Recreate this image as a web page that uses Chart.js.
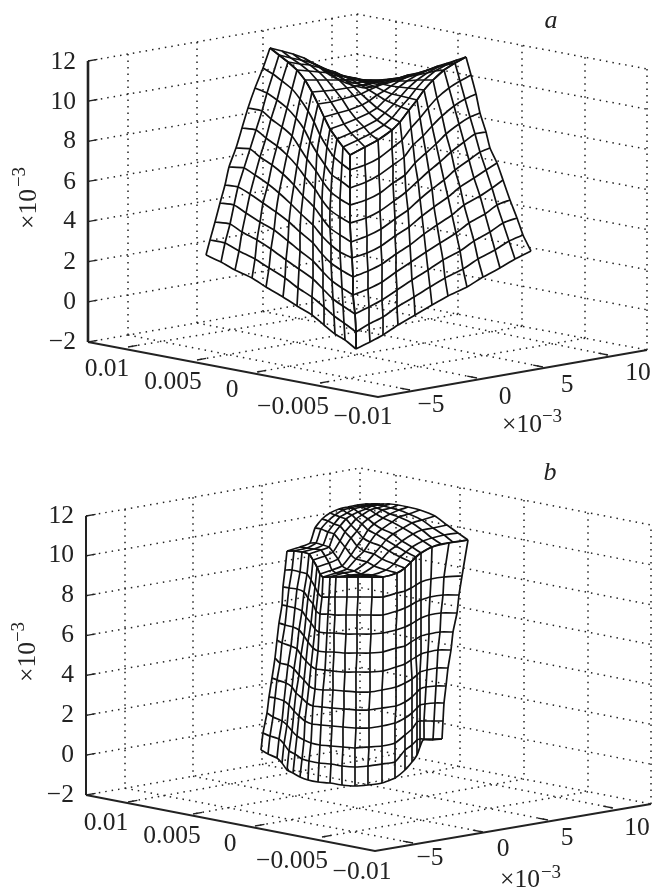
<!DOCTYPE html>
<html>
<head>
<meta charset="utf-8">
<style>
  html, body { margin: 0; padding: 0; background: #fff; }
  canvas { display: block; }
</style>
<script src="https://cdn.jsdelivr.net/npm/chart.js@4/dist/chart.umd.min.js"></script>
</head>
<body>
<canvas id="chart" width="656" height="892"></canvas>
<script>
const zTickLabels = ['12', '10', '8', '6', '4', '2', '0', '\u22122'];
const xTickLabels = ['0.01', '0.005', '0', '\u22120.005', '\u22120.01'];
const yTickLabels = ['\u22125', '0', '5', '10'];

// panel a, frame
const aCorners = { top: [88, 61], left: [88, 342], front: [378, 397], right: [647, 350], back: [357, 295], backTop: [357, 14], rightTop: [647, 69] };
const aLeftWallX = [128, 197, 263, 332];
const aRightWallX = [396, 458, 522, 585];
const aFrontLeftTicks = [[128, 347], [197, 360], [257, 372], [320, 383]];
const aFrontRightTicks = [[410, 390], [477, 378], [543, 367], [608, 355]];
const aZLabelY = [62, 102, 141, 182, 221, 262, 302, 342];
const aXLabelPos = [[107, 369], [173, 382], [232, 390], [293, 407], [363, 417]];
const aYLabelPos = [[431, 405], [505, 397], [567, 385], [638, 373]];

// panel b, frame
const bCorners = { top: [86, 516], left: [86, 795], front: [375, 851], right: [651, 804], back: [360, 747], backTop: [360, 468], rightTop: [651, 525] };
const bLeftWallX = [125, 193, 262, 330];
const bRightWallX = [396, 460, 524, 588];
const bFrontLeftTicks = [[128, 802], [193, 814], [255, 826], [322, 837]];
const bFrontRightTicks = [[413, 843], [483, 832], [548, 820], [613, 808]];
const bZLabelY = [516, 555, 595, 635, 675, 715, 755, 795];
const bXLabelPos = [[106, 823], [172, 836], [230, 844], [292, 861], [362, 872]];
const bYLabelPos = [[430, 858], [503, 849], [567, 838], [637, 828]];

// surface a, left wall (one line per column)
const aLeftX = [
  [270,263,255,248,242,236,229,225,220,215,210,206],
  [279,273,267,262,256,250,244,238,234,230,225,221],
  [288,282,277,271,266,260,255,250,246,242,239,235],
  [297,292,287,282,277,272,268,263,260,257,255,252],
  [305,300,296,292,287,283,279,276,274,271,269,266],
  [312,308,304,300,297,294,291,289,288,286,285,283],
  [318,314,310,307,305,303,301,300,300,299,298,297],
  [324,320,317,316,315,314,313,313,313,313,312,312],
  [330,327,325,323,322,322,322,322,323,323,324,324],
  [337,334,332,331,330,330,331,331,332,333,334,335],
  [343,342,341,340,340,340,340,341,342,343,344,345],
  [350,350,350,350,350,351,352,353,353,355,356,356]
];
const aLeftY = [
  [48,68,88,108,128,148,167,185,203,222,240,255],
  [55,74,93,111,130,149,168,187,205,224,243,262],
  [62,81,100,119,138,157,175,194,213,232,251,270],
  [70,89,108,127,146,165,184,203,222,240,259,278],
  [80,99,118,136,155,174,193,212,230,249,268,287],
  [92,111,129,148,166,185,204,222,241,260,278,297],
  [104,122,141,159,177,196,214,232,251,269,288,306],
  [117,135,153,171,189,207,225,243,261,279,297,315],
  [129,147,165,182,200,218,236,254,272,289,307,325],
  [139,157,175,192,210,228,245,263,281,299,316,334],
  [147,164,181,199,217,235,252,270,288,306,323,340],
  [155,170,188,205,223,242,258,277,295,314,332,349]
];

// surface a, right wall
const aRightX = [
  [350,350,350,350,350,351,352,353,353,355,356,356],
  [365,365,366,366,366,367,367,368,368,369,369,370],
  [378,379,379,380,380,381,381,382,382,382,383,383],
  [392,392,393,393,394,395,395,396,396,397,397,398],
  [400,402,404,405,406,408,409,410,411,412,414,415],
  [409,411,413,415,418,420,422,424,426,428,430,432],
  [417,420,423,426,429,432,434,437,440,443,445,448],
  [424,428,432,436,440,444,448,452,456,460,463,467],
  [433,437,442,446,451,455,460,464,469,474,478,483],
  [444,449,454,459,464,469,474,480,485,490,495,500],
  [455,460,465,470,475,480,486,492,497,503,509,515],
  [466,471,476,480,486,490,497,503,510,517,523,531]
];
const aRightY = [
  [155,170,188,205,223,242,258,277,295,314,332,349],
  [147,165,182,200,218,236,253,271,289,307,324,342],
  [140,158,175,193,211,229,246,264,282,300,317,335],
  [130,148,165,183,201,219,236,254,272,290,307,325],
  [122,140,157,175,192,210,227,245,262,280,297,315],
  [110,128,145,163,181,199,216,234,252,270,287,305],
  [100,118,136,153,171,189,207,225,243,260,278,296],
  [90,108,126,144,162,180,197,215,233,251,269,287],
  [80,98,116,134,152,170,187,205,223,241,259,277],
  [70,88,106,124,142,160,178,196,214,232,250,268],
  [63,81,99,117,134,152,170,188,205,223,241,259],
  [57,75,94,113,132,148,163,180,200,218,235,251]
];

// surface a, inner funnel
const aTopX = [
  [350,365,378,392,400,409,417,424,433,444,455,466],
  [343,358,370,384,392,401,409,416,424,435,446,457],
  [337,351,364,377,385,394,401,408,417,427,438,448],
  [330,344,356,369,377,385,392,399,407,417,428,438],
  [324,338,349,362,369,377,384,391,399,409,418,428],
  [318,331,342,354,361,369,376,382,389,399,408,418],
  [312,324,335,347,354,361,368,373,381,390,399,408],
  [305,317,327,339,345,352,359,364,371,380,389,398],
  [297,309,319,330,336,343,349,355,362,370,379,388],
  [288,300,310,321,328,335,341,346,354,362,371,380],
  [279,291,301,313,319,326,333,338,345,354,363,372],
  [270,282,293,304,310,318,324,330,337,346,355,364]
];
const aTopY = [
  [155,147,140,130,122,110,100,90,80,70,63,57],
  [147,140,134,125,118,107,98,89,80,71,65,60],
  [139,133,127,120,113,104,96,88,80,73,67,63],
  [129,124,119,113,108,100,94,87,81,75,70,66],
  [117,113,110,105,101,95,91,86,81,76,73,70],
  [104,102,99,96,94,90,87,84,81,78,75,74],
  [92,91,90,88,87,85,84,82,81,79,78,77],
  [80,80,80,80,80,80,80,80,80,80,80,80],
  [70,71,72,73,74,76,77,78,80,81,82,83],
  [62,64,65,68,70,72,75,77,79,82,83,85],
  [55,58,60,63,66,70,73,76,80,83,85,87],
  [48,51,54,58,62,66,71,75,79,83,86,88]
];

// surface b, outer wall (one line per column)
const bWallX = [
  [287,285,283,282,279,277,275,272,269,267,263,261],
  [294,292,289,287,285,282,280,277,275,273,270,268],
  [302,300,297,295,293,291,288,286,284,282,279,277],
  [309,307,304,302,299,297,294,292,289,287,284,282],
  [313,311,308,306,304,301,299,296,294,292,289,287],
  [317,315,313,311,308,306,304,302,299,297,295,293],
  [320,318,316,315,313,311,309,307,305,304,302,300],
  [323,322,320,319,318,316,315,313,312,311,309,308],
  [330,329,328,327,326,325,323,322,321,320,319,318],
  [336,335,335,334,334,333,333,332,332,331,331,330],
  [347,347,346,346,345,345,344,344,343,343,342,342],
  [358,358,357,357,357,356,356,356,356,355,355,355],
  [372,372,371,371,370,370,370,369,369,369,368,368],
  [383,383,383,383,383,383,382,382,382,382,382,382],
  [397,397,397,396,396,396,396,396,395,395,395,395],
  [405,405,405,405,405,405,405,405,405,405,405,405],
  [411,411,411,411,411,411,412,412,412,412,412,412],
  [416,416,416,416,416,416,417,417,417,417,417,417],
  [421,421,421,421,421,421,420,420,420,420,420,420],
  [432,431,430,429,429,428,427,426,425,424,424,423],
  [449,444,443,441,440,438,437,436,435,434,433,432],
  [468,462,459,457,453,451,448,446,444,443,442,442]
];
const bWallY = [
  [551,570,587,605,623,640,658,678,697,713,733,750],
  [551,570,588,606,625,643,663,680,698,717,736,754],
  [552,572,589,608,627,646,665,683,701,721,739,758],
  [554,574,592,611,630,649,669,687,705,725,744,763],
  [560,580,598,617,636,655,675,693,711,731,751,770],
  [567,587,604,623,642,661,680,698,716,736,754,773],
  [574,593,611,629,648,666,686,703,721,740,759,777],
  [577,597,614,632,651,669,689,706,724,743,761,780],
  [577,597,614,633,652,670,690,707,725,745,763,782],
  [577,597,615,633,652,671,690,708,726,746,764,783],
  [577,597,615,634,653,672,691,709,727,747,766,785],
  [577,597,615,634,653,672,692,710,728,748,767,786],
  [577,597,615,634,653,672,692,710,728,747,766,785],
  [577,597,615,633,652,671,690,708,726,746,764,783],
  [573,593,611,630,648,667,687,706,723,743,762,778],
  [568,591,608,627,646,664,683,702,718,735,750,770],
  [562,588,605,624,642,660,679,697,713,729,745,762],
  [557,585,602,621,639,657,675,692,708,722,740,755],
  [553,582,600,618,636,654,672,689,705,721,739,747],
  [547,579,597,615,634,652,670,687,704,721,739,740],
  [543,577,595,613,632,650,668,686,703,721,739,740],
  [540,576,595,613,632,650,668,686,703,721,739,739]
];

// surface b, dome on top: the two line families cross diagonally
const bDomeX = [
  [358,372,383,397,405,411,416,421,432,441,453,468],
  [347,361,372,386,394,400,406,412,423,432,444,458],
  [336,350,361,374,382,389,396,402,413,422,433,447],
  [330,344,354,367,374,381,386,393,403,412,422,435],
  [323,336,347,356,364,370,376,382,392,399,409,420],
  [320,332,342,351,357,363,368,374,383,390,399,408],
  [317,329,338,345,351,357,362,368,376,382,391,398],
  [313,325,333,340,345,351,356,362,370,377,384,390],
  [309,321,329,334,340,346,352,358,366,372,378,384],
  [302,314,323,328,334,340,347,354,362,369,375,380],
  [294,307,316,321,328,335,343,350,359,367,373,378],
  [287,300,310,315,322,330,339,348,357,365,371,376]
];
const bDomeY = [
  [577,577,577,573,568,562,557,553,547,544,542,540],
  [577,576,575,570,564,557,552,547,541,538,535,533],
  [577,575,574,566,559,551,546,541,534,530,528,525],
  [577,573,571,562,554,546,540,534,528,523,520,516],
  [577,573,569,559,551,542,534,529,522,517,514,510],
  [574,570,566,555,546,538,530,524,518,514,510,507],
  [567,563,559,547,538,531,524,519,514,510,508,505],
  [560,556,552,541,532,525,519,515,510,508,506,504],
  [554,550,547,534,526,519,515,512,509,506,505,504],
  [552,549,545,532,524,517,513,509,507,506,504,504],
  [551,548,543,529,521,515,510,508,506,505,504,504],
  [551,547,543,528,519,513,509,507,505,504,504,504]
];

const datasets = [];

function addLine(points, color, width, dash, tension) {
  datasets.push({
    data: points.map(p => ({ x: p[0], y: p[1] })),
    showLine: true,
    pointRadius: 0,
    borderColor: color,
    borderWidth: width,
    borderDash: dash || [],
    tension: tension || 0
  });
}

function addMesh(X, Y, tension) {
  X.forEach((col, j) => addLine(col.map((x, i) => [x, Y[j][i]]), '#111', 1.7, null, tension));
  X[0].forEach((_, i) => addLine(X.map((col, j) => [col[i], Y[j][i]]), '#111', 1.7, null, tension));
}

function along(p, q, t) {
  return [p[0] + (q[0] - p[0]) * t, p[1] + (q[1] - p[1]) * t];
}

function addFrame(c, leftWallX, rightWallX, frontLeft, frontRight, zWidth) {
  const dots = [1.5, 5];
  const grey = '#222';
  // z gridlines round the two back walls
  for (let k = 0; k < zTickLabels.length; k++) {
    const t = k / (zTickLabels.length - 1);
    const a = along(c.top, c.left, t);
    const b = along(c.backTop, c.back, t);
    const r = along(c.rightTop, c.right, t);
    addLine([a, b, r], grey, 1.5, dots);
    addLine([a, along(a, b, 0.035)], '#222', 1.3);
  }
  addLine([c.back, c.backTop], grey, 1.5, dots);
  addLine([c.right, c.rightTop], grey, 1.5, dots);

  // verticals on the walls and the floor lines that start from them
  leftWallX.forEach((x, n) => {
    const t = (x - c.top[0]) / (c.backTop[0] - c.top[0]);
    const topP = along(c.top, c.backTop, t);
    const base = along(c.left, c.back, t);
    addLine([topP, base], grey, 1.5, dots);
    addLine([base, frontRight[n]], grey, 1.5, dots);
    addLine([frontRight[n], along(frontRight[n], base, 0.035)], '#222', 1.3);
  });
  rightWallX.forEach((x, n) => {
    const t = (x - c.backTop[0]) / (c.rightTop[0] - c.backTop[0]);
    const topP = along(c.backTop, c.rightTop, t);
    const base = along(c.back, c.right, t);
    addLine([topP, base], grey, 1.5, dots);
    addLine([base, frontLeft[n]], grey, 1.5, dots);
    addLine([frontLeft[n], along(frontLeft[n], base, 0.035)], '#222', 1.3);
  });

  addLine([c.top, c.left], '#222', zWidth);
  addLine([c.left, c.front, c.right], '#222', 2);
}

addFrame(aCorners, aLeftWallX, aRightWallX, aFrontLeftTicks, aFrontRightTicks, 2.6);
addFrame(bCorners, bLeftWallX, bRightWallX, bFrontLeftTicks, bFrontRightTicks, 2);
addMesh(aLeftX, aLeftY, 0.2);
addMesh(aRightX, aRightY, 0.2);
addMesh(aTopX, aTopY);
addMesh(bWallX, bWallY, 0.15);
addMesh(bDomeX, bDomeY, 0.15);

const labelPlugin = {
  id: 'labels',
  afterDraw(chart) {
    const { ctx, scales } = chart;
    const px = v => scales.x.getPixelForValue(v);
    const py = v => scales.y.getPixelForValue(v);
    const font = '25.5px "Liberation Serif"';
    ctx.save();
    ctx.fillStyle = '#222';
    ctx.textBaseline = 'middle';
    ctx.font = font;

    ctx.textAlign = 'right';
    zTickLabels.forEach((t, i) => {
      ctx.fillText(t, px(76), py(aZLabelY[i]));
      ctx.fillText(t, px(74), py(bZLabelY[i]));
    });
    ctx.textAlign = 'center';
    xTickLabels.forEach((t, i) => {
      ctx.fillText(t, px(aXLabelPos[i][0]), py(aXLabelPos[i][1]));
      ctx.fillText(t, px(bXLabelPos[i][0]), py(bXLabelPos[i][1]));
    });
    yTickLabels.forEach((t, i) => {
      ctx.fillText(t, px(aYLabelPos[i][0]), py(aYLabelPos[i][1]));
      ctx.fillText(t, px(bYLabelPos[i][0]), py(bYLabelPos[i][1]));
    });

    // the two x10^-3 under the right axis
    [[522, 425, 552, 417], [520, 880, 551, 873]].forEach(p => {
      ctx.font = font;
      ctx.fillText('\u00d710', px(p[0]), py(p[1]));
      ctx.font = '19px "Liberation Serif"';
      ctx.fillText('\u22123', px(p[2]), py(p[3]));
    });

    // and the rotated ones next to the z axis
    [[29, 209, 20, 177], [28, 662, 19, 632]].forEach(p => {
      ctx.save();
      ctx.translate(px(p[0]), py(p[1]));
      ctx.rotate(-Math.PI / 2);
      ctx.font = font;
      ctx.fillText('\u00d710', 0, 0);
      ctx.restore();
      ctx.save();
      ctx.translate(px(p[2]), py(p[3]));
      ctx.rotate(-Math.PI / 2);
      ctx.font = '19px "Liberation Serif"';
      ctx.fillText('\u22123', 0, 0);
      ctx.restore();
    });

    ctx.font = 'italic 26px "Liberation Serif"';
    ctx.fillText('a', px(551), py(21));
    ctx.fillText('b', px(550), py(473));
    ctx.restore();
  }
};

new Chart(document.getElementById('chart'), {
  type: 'scatter',
  data: { datasets },
  plugins: [labelPlugin],
  options: {
    responsive: false,
    animation: false,
    layout: { padding: 0 },
    plugins: { legend: { display: false }, tooltip: { enabled: false } },
    scales: {
      x: { type: 'linear', min: 0, max: 656, display: false },
      y: { type: 'linear', min: 0, max: 892, reverse: true, display: false }
    }
  }
});
</script>
</body>
</html>
